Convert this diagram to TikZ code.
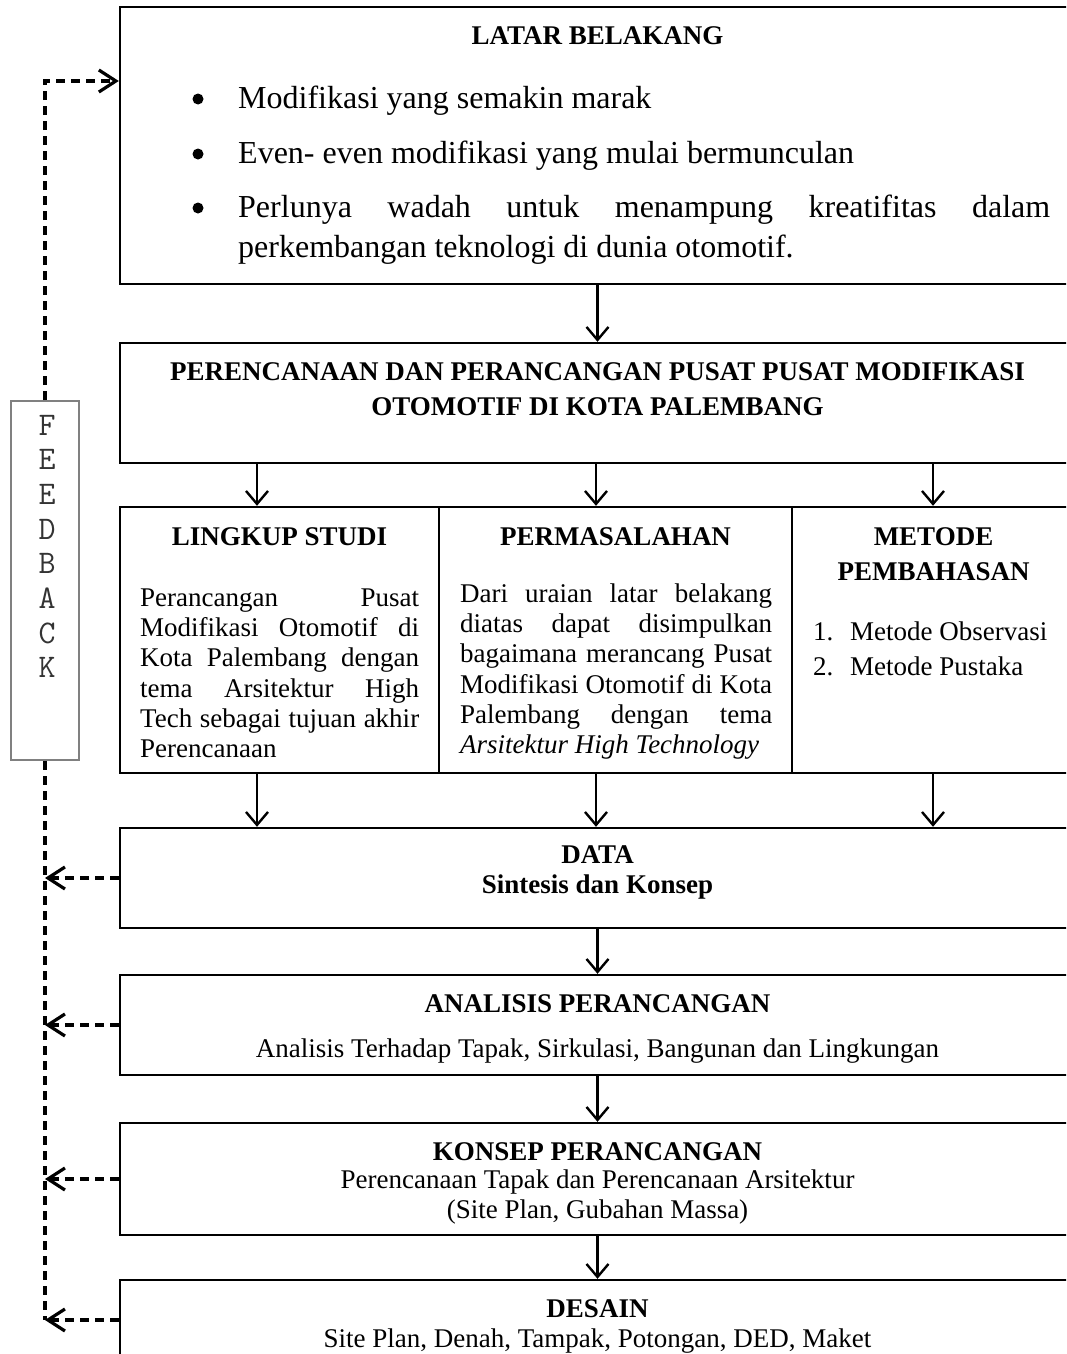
\documentclass[tikz,border=0pt]{standalone}
\usepackage{fontspec}
\setmainfont{Liberation Serif}
\usetikzlibrary{positioning,arrows.meta}
\newcommand{\spreadline}[2]{\makebox[#1][s]{#2}}

\begin{document}
\begin{tikzpicture}[x=1pt, y=-1pt,
    box/.style={rectangle, draw, line width=2.4pt, minimum width=955pt, inner sep=0pt},
    col/.style={rectangle, draw, line width=2.4pt, minimum height=266pt, inner sep=0pt},
    head/.style={inner sep=0pt, anchor=base, font=\fontsize{27}{30}\selectfont\bfseries},
    body/.style={inner sep=0pt, anchor=base, font=\fontsize{27}{30}\selectfont},
    lefttext/.style={body, anchor=base west},
    bigtext/.style={inner sep=0pt, anchor=base west, font=\fontsize{32}{40}\selectfont},
    dot/.style={circle, fill, inner sep=0pt, minimum size=11pt},
    fbletter/.style={inner sep=0pt, anchor=base, text=black!80,
        font=\fontsize{33}{34}\selectfont\ttfamily\addfontfeature{FakeBold=1.2}},
    flow/.style={line width=2.4pt, -{Straight Barb[length=13pt,width=22pt]}},
    fbline/.style={line width=3.2pt, dash pattern=on 9pt off 6pt},
    fbarrow/.style={fbline, -{Straight Barb[length=17pt,width=22pt]}}
]
\useasboundingbox (0,0) rectangle (1066,1354);
\clip (0,0) rectangle (1066,1354);

\node [box, minimum height=277pt] (latar) at (597.5,145.5) {};
\node [box, minimum height=120pt] (rencana) at (597.5,403) {};
\node [col, minimum width=319pt] (lingkup) at (279.5,640) {};
\node [col, minimum width=353pt] (masalah) at (615.5,640) {};
\node [col, minimum width=283pt] (metode) at (933.5,640) {};
\node [box, minimum height=100pt] (data) at (597.5,878) {};
\node [box, minimum height=100pt] (analisis) at (597.5,1025) {};
\node [box, minimum height=112pt] (konsep) at (597.5,1179) {};
\node [box, minimum height=80pt] (desain) at (597.5,1320) {};
\node [rectangle, draw=gray, line width=2pt, minimum width=68pt, minimum height=359pt] (fb) at (45,580.5) {};

\node [head] (latarhead) at (597.5,45) {LATAR BELAKANG};
\foreach \y in {99,154,208}
    \node [dot] (bul\y) at (198,\y) {};
\node [bigtext] (latar1) at (238,108) {Modifikasi yang semakin marak};
\node [bigtext] (latar2) at (238,163) {Even- even modifikasi yang mulai bermunculan};
\node [bigtext] (latar3) at (238,217) {\spreadline{812pt}{Perlunya wadah untuk menampung kreatifitas dalam}};
\node [bigtext] (latar4) at (238,257) {perkembangan teknologi di dunia otomotif.};

\node [head] (judul1) at (597.5,380) {PERENCANAAN DAN PERANCANGAN PUSAT PUSAT MODIFIKASI};
\node [head] (judul2) at (597.5,415) {OTOMOTIF DI KOTA PALEMBANG};

\node [head] (lingkuphead) at (279.5,545) {LINGKUP STUDI};
\node [lefttext] (lk1) at (140,606) {\spreadline{279pt}{Perancangan Pusat}};
\node [lefttext] (lk2) at (140,636) {\spreadline{279pt}{Modifikasi Otomotif di}};
\node [lefttext] (lk3) at (140,666) {\spreadline{279pt}{Kota Palembang dengan}};
\node [lefttext] (lk4) at (140,697) {\spreadline{279pt}{tema Arsitektur High}};
\node [lefttext] (lk5) at (140,727) {\spreadline{279pt}{Tech sebagai tujuan akhir}};
\node [lefttext] (lk6) at (140,757) {Perencanaan};

\node [head] (masalahhead) at (615.5,545) {PERMASALAHAN};
\node [lefttext] (pm1) at (460,602) {\spreadline{312pt}{Dari uraian latar belakang}};
\node [lefttext] (pm2) at (460,632) {\spreadline{312pt}{diatas dapat disimpulkan}};
\node [lefttext] (pm3) at (460,662) {\spreadline{312pt}{bagaimana merancang Pusat}};
\node [lefttext] (pm4) at (460,693) {\spreadline{312pt}{Modifikasi Otomotif di Kota}};
\node [lefttext] (pm5) at (460,723) {\spreadline{312pt}{Palembang dengan tema}};
\node [lefttext] (pm6) at (460,753) {\textit{Arsitektur High Technology}};

\node [head] (metodehead1) at (933.5,545) {METODE};
\node [head] (metodehead2) at (933.5,580) {PEMBAHASAN};
\node [lefttext] (mt1n) at (813,640) {1.};
\node [lefttext] (mt1) at (850,640) {Metode Observasi};
\node [lefttext] (mt2n) at (813,675) {2.};
\node [lefttext] (mt2) at (850,675) {Metode Pustaka};

\node [head] (datahead) at (597.5,863) {DATA};
\node [head] (datasub) at (597.5,893) {Sintesis dan Konsep};
\node [head] (analisishead) at (597.5,1012) {ANALISIS PERANCANGAN};
\node [body] (analisissub) at (597.5,1057) {Analisis Terhadap Tapak, Sirkulasi, Bangunan dan Lingkungan};
\node [head] (konsephead) at (597.5,1160) {KONSEP PERANCANGAN};
\node [body] (konsepsub1) at (597.5,1188) {Perencanaan Tapak dan Perencanaan Arsitektur};
\node [body] (konsepsub2) at (597.5,1218) {(Site Plan, Gubahan Massa)};
\node [head] (desainhead) at (597.5,1317) {DESAIN};
\node [body] (desainsub) at (597.5,1347) {Site Plan, Denah, Tampak, Potongan, DED, Maket};

\foreach \l [count=\i from 0] in {F,E,E,D,B,A,C,K}
    \node [fbletter] (fb\i) at (47,435+34.7*\i) {\l};

\coordinate (p1) at (257,0);
\coordinate (p2) at (596,0);
\coordinate (p3) at (933,0);

\draw [flow] (latar.south) -- (rencana.north);
\foreach \p in {p1,p2,p3} {
    \draw [flow] (rencana.south -| \p) -- (lingkup.north -| \p);
    \draw [flow] (lingkup.south -| \p) -- (data.north -| \p);
}
\draw [flow] (data.south) -- (analisis.north);
\draw [flow] (analisis.south) -- (konsep.north);
\draw [flow] (konsep.south) -- (desain.north);

\draw [fbarrow] (fb.north) |- ([yshift=64.5pt]latar.west);
\draw [fbline] (fb.south) -- (fb.south |- desain.west);
\foreach \b in {data,analisis,konsep,desain}
    \draw [fbarrow] (\b.west) -- (\b.west -| fb.south);

\end{tikzpicture}
\end{document}
